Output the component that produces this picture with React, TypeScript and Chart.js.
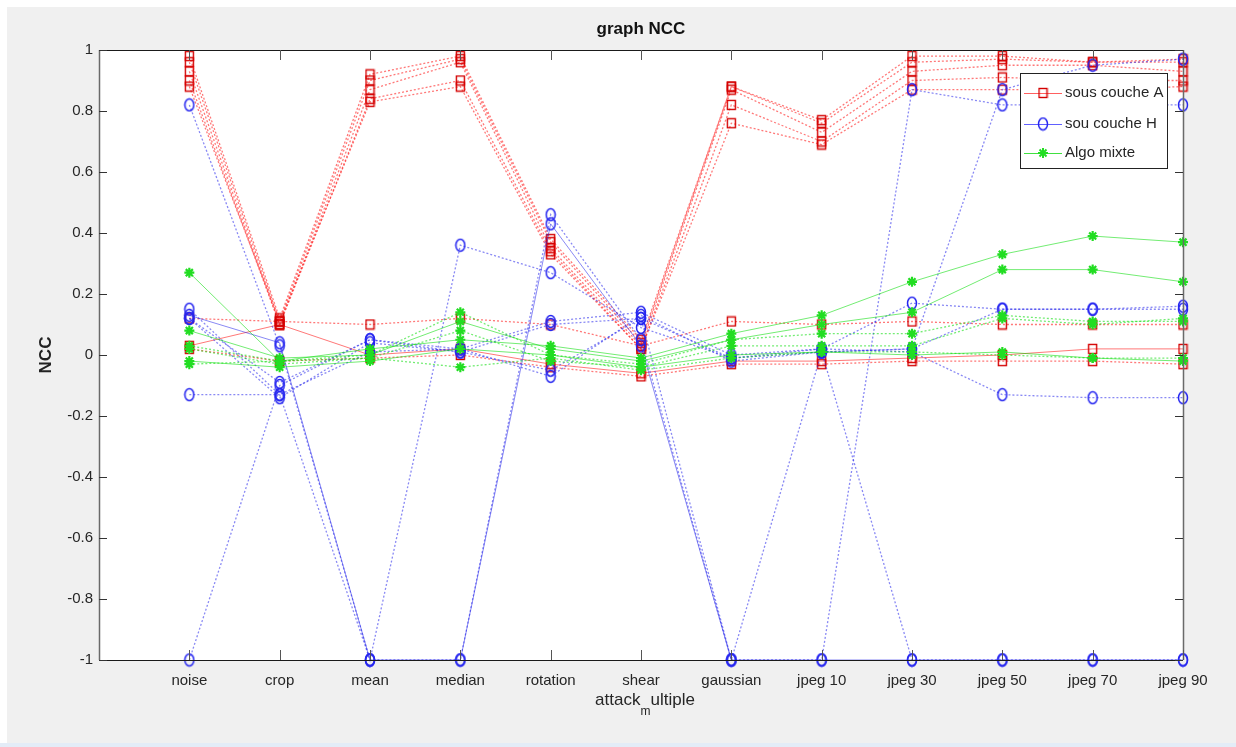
import { useEffect, useRef } from "react";
import { Chart, registerables } from "chart.js";

Chart.register(...registerables);

// ---------- data ----------
const categories = ["noise", "crop", "mean", "median", "rotation", "shear", "gaussian", "jpeg 10", "jpeg 30", "jpeg 50", "jpeg 70", "jpeg 90"];
const yTickLabels = ["-1", "-0.8", "-0.6", "-0.4", "-0.2", "0", "0.2", "0.4", "0.6", "0.8", "1"];
const legendLabels = ["sous couche A", "sou couche H", "Algo mixte"];
const chartTitle = "graph NCC";
const yAxisTitle = "NCC";

// sous couche A (red squares)
const coucheA1 = [0.98, 0.12, 0.92, 0.98, 0.38, 0.05, 0.88, 0.77, 0.98, 0.98, 0.96, 0.97];
const coucheA2 = [0.96, 0.11, 0.90, 0.97, 0.37, 0.04, 0.88, 0.76, 0.96, 0.97, 0.96, 0.96];
const coucheA3 = [0.93, 0.10, 0.87, 0.96, 0.35, 0.03, 0.87, 0.73, 0.93, 0.95, 0.95, 0.93];
const coucheA4 = [0.90, 0.10, 0.84, 0.90, 0.34, 0.02, 0.82, 0.70, 0.90, 0.91, 0.90, 0.90];
const coucheA5 = [0.88, 0.11, 0.83, 0.88, 0.33, 0.02, 0.76, 0.69, 0.87, 0.87, 0.87, 0.88];
const coucheA6 = [0.12, 0.11, 0.10, 0.12, 0.10, 0.03, 0.11, 0.10, 0.11, 0.10, 0.10, 0.10];
const coucheA7 = [0.03, 0.10, 0.00, 0.02, -0.03, -0.06, -0.02, -0.02, -0.01, 0.00, 0.02, 0.02];
const coucheA8 = [0.02, -0.02, -0.01, 0.00, -0.04, -0.07, -0.03, -0.03, -0.02, -0.02, -0.02, -0.03];

// sou couche H (blue circles)
const coucheH1 = [0.82, 0.03, -1, 0.36, 0.27, 0.09, -0.01, 0.01, 0.02, 0.15, 0.15, 0.16];
const coucheH2 = [-1, -0.10, 0.05, 0.02, 0.11, 0.14, 0.00, 0.02, 0.17, 0.15, 0.15, 0.15];
const coucheH3 = [0.15, -0.13, -1, -1, 0.46, 0.05, -1, -1, 0.87, 0.82, 0.82, 0.82];
const coucheH4 = [0.12, -0.14, 0.04, 0.01, 0.10, 0.12, -1, 0.01, 0.02, 0.87, 0.95, 0.97];
const coucheH5 = [0.13, 0.04, -1, -1, 0.43, 0.03, -1, -1, -1, -1, -1, -1];
const coucheH6 = [-0.13, -0.13, 0.01, 0.02, -0.07, 0.13, -0.02, 0.01, -1, -1, -1, -1];
const coucheH7 = [0.12, -0.09, 0.05, 0.01, -0.05, 0.12, -0.01, 0.02, 0.01, -0.13, -0.14, -0.14];

// Algo mixte (green stars)
const mixte1 = [0.27, -0.02, 0.02, 0.05, 0.03, -0.01, 0.07, 0.13, 0.24, 0.33, 0.39, 0.37];
const mixte2 = [0.08, -0.01, 0.00, 0.11, 0.02, -0.02, 0.05, 0.10, 0.14, 0.28, 0.28, 0.24];
const mixte3 = [0.03, -0.02, 0.00, 0.14, 0.00, -0.03, 0.05, 0.07, 0.07, 0.13, 0.11, 0.11];
const mixte4 = [0.02, -0.03, -0.01, 0.08, -0.02, -0.04, 0.03, 0.03, 0.03, 0.12, 0.10, 0.12];
const mixte5 = [-0.02, -0.04, -0.02, 0.02, 0.00, -0.04, 0.00, 0.01, 0.00, 0.01, -0.01, -0.02];
const mixte6 = [-0.03, -0.02, -0.01, -0.04, -0.01, -0.05, -0.01, 0.01, 0.01, 0.00, -0.01, -0.01];

const seriesA = [
  { data: coucheA1, solid: false }, { data: coucheA2, solid: false }, { data: coucheA3, solid: false },
  { data: coucheA4, solid: false }, { data: coucheA5, solid: false }, { data: coucheA6, solid: false },
  { data: coucheA7, solid: true }, { data: coucheA8, solid: false },
];
const seriesH = [
  { data: coucheH1, solid: false }, { data: coucheH2, solid: false }, { data: coucheH3, solid: false },
  { data: coucheH4, solid: false }, { data: coucheH5, solid: true }, { data: coucheH6, solid: false },
  { data: coucheH7, solid: false },
];
const seriesM = [
  { data: mixte1, solid: true }, { data: mixte2, solid: true }, { data: mixte3, solid: false },
  { data: mixte4, solid: false }, { data: mixte5, solid: true }, { data: mixte6, solid: false },
];

const FONT = '"Liberation Sans", Arial, Helvetica, sans-serif';
const TEXT = "#262626";

function makeSquare(): HTMLCanvasElement {
  const c = document.createElement("canvas");
  c.width = 11; c.height = 12;
  const g = c.getContext("2d")!;
  g.strokeStyle = "#d40000";
  g.lineWidth = 1.4;
  g.strokeRect(1.5, 1.5, 8, 9);
  return c;
}
function makeCircle(): HTMLCanvasElement {
  const c = document.createElement("canvas");
  c.width = 12; c.height = 15;
  const g = c.getContext("2d")!;
  g.strokeStyle = "#2626f0";
  g.lineWidth = 1.5;
  g.beginPath();
  g.ellipse(6, 7.5, 4.5, 6, 0, 0, Math.PI * 2);
  g.stroke();
  return c;
}

export default function App() {
  const ref = useRef<HTMLCanvasElement | null>(null);

  useEffect(() => {
    const canvas = ref.current;
    if (!canvas) return;
    const sq = makeSquare();
    const ci = makeCircle();

    const mk = (values: number[], kind: "A" | "H" | "M", solid: boolean) => {
      const line = kind === "A" ? "rgba(255,30,30,0.6)" : kind === "H" ? "rgba(40,40,235,0.55)" : "rgba(0,220,0,0.55)";
      return {
        label: kind,
        data: values.map((y, i) => ({ x: i + 1, y })),
        borderColor: line,
        borderWidth: solid ? 1 : 1.3,
        borderDash: solid ? [] : [2, 2],
        pointStyle: kind === "A" ? sq : kind === "H" ? ci : "star",
        pointRadius: kind === "M" ? 5 : 5,
        pointBorderWidth: kind === "M" ? 2.2 : 1,
        pointBorderColor: kind === "M" ? "#22dd22" : kind === "A" ? "#d40000" : "#2626f0",
        pointBackgroundColor: "transparent",
        fill: false,
        tension: 0,
        clip: false as any,
        order: kind === "A" ? 2 : kind === "H" ? 1 : 0,
      };
    };

    const datasets = [
      ...seriesA.map((s) => mk(s.data, "A", s.solid)),
      ...seriesH.map((s) => mk(s.data, "H", s.solid)),
      ...seriesM.map((s) => mk(s.data, "M", s.solid)),
    ];

    const decor = {
      id: "matlabDecor",
      beforeDraw(chart: any) {
        const { ctx, chartArea: a, width, height } = chart;
        ctx.save();
        ctx.fillStyle = "#ffffff";
        ctx.fillRect(0, 0, width, height);
        ctx.fillStyle = "#f0f0f0";
        ctx.fillRect(7, 7, width - 7, height - 11);
        ctx.fillStyle = "#e3ecf7";
        ctx.fillRect(0, height - 4, width, 4);
        ctx.fillStyle = "#ffffff";
        ctx.fillRect(a.left, a.top, a.right - a.left, a.bottom - a.top);
        ctx.restore();
      },
      afterDraw(chart: any) {
        const { ctx, chartArea: a } = chart;
        const xs = chart.scales.x;
        const ys = chart.scales.y;
        ctx.save();
        // box
        ctx.lineWidth = 1.2;
        ctx.strokeStyle = "#1a1a1a";
        ctx.beginPath();
        ctx.moveTo(a.left, a.top + 0.5); ctx.lineTo(a.right, a.top + 0.5);
        ctx.moveTo(a.left, a.bottom + 0.5); ctx.lineTo(a.right, a.bottom + 0.5);
        ctx.stroke();
        ctx.strokeStyle = "#6a6a6a";
        ctx.lineWidth = 1.5;
        ctx.beginPath();
        ctx.moveTo(a.left + 0.5, a.top); ctx.lineTo(a.left + 0.5, a.bottom);
        ctx.moveTo(a.right + 0.5, a.top); ctx.lineTo(a.right + 0.5, a.bottom);
        ctx.stroke();
        // ticks
        ctx.lineWidth = 1;
        ctx.strokeStyle = "#333";
        ctx.beginPath();
        for (const t of ys.ticks) {
          const py = Math.round(ys.getPixelForValue(t.value)) + 0.5;
          ctx.moveTo(a.left, py); ctx.lineTo(a.left + 8, py);
          ctx.moveTo(a.right, py); ctx.lineTo(a.right - 8, py);
        }
        ctx.stroke();
        ctx.strokeStyle = "#555";
        ctx.beginPath();
        for (const t of xs.ticks) {
          if (t.value < 1) continue;
          const px = Math.round(xs.getPixelForValue(t.value)) + 0.5;
          ctx.moveTo(px, a.top); ctx.lineTo(px, a.top + 10);
          ctx.moveTo(px, a.bottom); ctx.lineTo(px, a.bottom - 10);
        }
        ctx.stroke();

        // title
        const cx = (a.left + a.right) / 2;
        ctx.fillStyle = "#111";
        ctx.font = `bold 17px ${FONT}`;
        ctx.textAlign = "center";
        ctx.textBaseline = "middle";
        ctx.fillText(chartTitle, cx, 29);

        // y title
        ctx.save();
        ctx.translate(46, (a.top + a.bottom) / 2);
        ctx.rotate(-Math.PI / 2);
        ctx.font = `bold 17px ${FONT}`;
        ctx.fillStyle = "#222";
        ctx.fillText(yAxisTitle, 0, 0);
        ctx.restore();

        // x title: attack_multiple with subscript m
        const p1 = "attack", sub = "m", p2 = "ultiple";
        ctx.font = `17px ${FONT}`;
        const w1 = ctx.measureText(p1).width;
        const w3 = ctx.measureText(p2).width;
        ctx.font = `12px ${FONT}`;
        const w2 = ctx.measureText(sub).width;
        const x0 = cx - (w1 + w2 + w3) / 2 + 4;
        ctx.textAlign = "left";
        ctx.fillStyle = TEXT;
        ctx.font = `17px ${FONT}`;
        ctx.fillText(p1, x0, 700);
        ctx.font = `12px ${FONT}`;
        ctx.fillText(sub, x0 + w1, 712);
        ctx.font = `17px ${FONT}`;
        ctx.fillText(p2, x0 + w1 + w2, 700);

        // legend
        const lx = 1020, ly = 73, lw = 147, lh = 95;
        ctx.fillStyle = "#ffffff";
        ctx.fillRect(lx, ly, lw, lh);
        ctx.strokeStyle = "#222";
        ctx.lineWidth = 1;
        ctx.strokeRect(lx + 0.5, ly + 0.5, lw, lh);
        const rows = [93, 124, 153];
        const lineCols = ["#ff6060", "#6060ff", "#40e040"];
        rows.forEach((ry, i) => {
          ctx.strokeStyle = lineCols[i];
          ctx.lineWidth = 1;
          ctx.beginPath();
          ctx.moveTo(lx + 4, ry + 0.5); ctx.lineTo(lx + 42, ry + 0.5);
          ctx.stroke();
          const mx = lx + 23;
          if (i === 0) ctx.drawImage(sq, mx - sq.width / 2, ry - sq.height / 2);
          else if (i === 1) ctx.drawImage(ci, mx - ci.width / 2, ry - ci.height / 2);
          else {
            ctx.strokeStyle = "#22dd22";
            ctx.lineWidth = 2;
            ctx.beginPath();
            ctx.moveTo(mx - 5, ry); ctx.lineTo(mx + 5, ry);
            ctx.moveTo(mx, ry - 5); ctx.lineTo(mx, ry + 5);
            ctx.moveTo(mx - 3.5, ry - 3.5); ctx.lineTo(mx + 3.5, ry + 3.5);
            ctx.moveTo(mx - 3.5, ry + 3.5); ctx.lineTo(mx + 3.5, ry - 3.5);
            ctx.stroke();
          }
          ctx.fillStyle = TEXT;
          ctx.font = `15px ${FONT}`;
          ctx.textAlign = "left";
          ctx.textBaseline = "middle";
          ctx.fillText(legendLabels[i], lx + 45, ry);
        });
        ctx.restore();
      },
    };

    const chart = new Chart(canvas, {
      type: "line",
      data: { datasets: datasets as any },
      options: {
        responsive: false,
        animation: false,
        devicePixelRatio: 1,
        layout: { padding: { left: 0, top: 50, right: 53, bottom: 0 } },
        plugins: { legend: { display: false }, tooltip: { enabled: false }, title: { display: false } },
        scales: {
          x: {
            type: "linear",
            min: 0,
            max: 12,
            grid: { display: false, drawTicks: false },
            border: { display: false },
            ticks: {
              stepSize: 1,
              autoSkip: false,
              maxRotation: 0,
              padding: 12,
              color: TEXT,
              font: { family: FONT, size: 15 },
              callback: (v: any) => categories[Number(v) - 1] ?? "",
            },
            afterFit: (s: any) => { s.height = 87; },
          },
          y: {
            type: "linear",
            min: -1,
            max: 1,
            grid: { display: false, drawTicks: false },
            border: { display: false },
            ticks: {
              stepSize: 0.2,
              padding: 6,
              color: TEXT,
              font: { family: FONT, size: 15 },
              callback: (_v: any, i: number) => yTickLabels[i] ?? "",
            },
            afterFit: (s: any) => { s.width = 99; },
          },
        },
      },
      plugins: [decor],
    });
    return () => chart.destroy();
  }, []);

  return (
    <div style={{ position: "absolute", left: 0, top: 0, width: 1236, height: 747 }}>
      <canvas ref={ref} width={1236} height={747} style={{ display: "block" }} />
    </div>
  );
}
